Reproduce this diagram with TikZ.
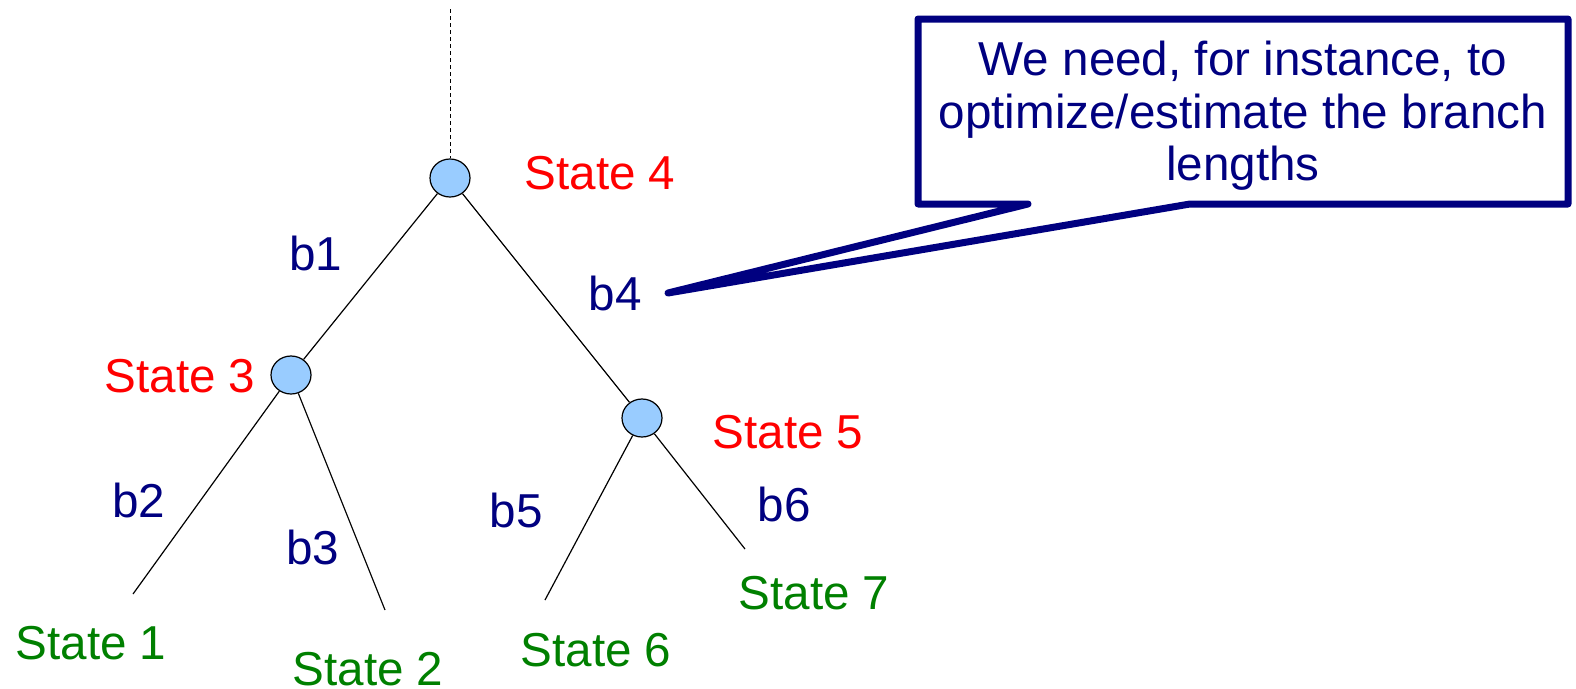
\documentclass[tikz,border=0pt]{standalone}
\usepackage{fontspec}
\setmainfont{Liberation Sans}
\usetikzlibrary{shapes.geometric}
\definecolor{navy}{RGB}{0,0,128}
\definecolor{sred}{RGB}{255,0,0}
\definecolor{sgreen}{RGB}{0,128,0}
\definecolor{nodeblue}{RGB}{153,204,255}
\begin{document}
\begin{tikzpicture}[x=1pt,y=-1pt,
  txt/.style={font=\fontsize{47.6}{52.5}\selectfont, inner sep=0pt},
  inner/.style={txt, text=sred},
  leaf/.style={txt, text=sgreen},
  blab/.style={txt, text=navy},
  vert/.style={ellipse, draw=black, line width=1.2pt, fill=nodeblue, minimum width=40pt, minimum height=38pt, inner sep=0pt},
  edge/.style={draw=black, line width=1.2pt},
  callout/.style={draw=navy, line width=7pt, line join=round, line cap=round}]
\useasboundingbox (0,0) rectangle (1576,688);
\fill[white] (0,0) rectangle (1576,688);
% vertices
\node[vert] (n4) at (450,178) {};
\node[vert] (n3) at (291,375) {};
\node[vert] (n5) at (642,418) {};
\coordinate (root) at (450,9);
\coordinate (l1) at (133,594);
\coordinate (l2) at (385,610);
\coordinate (l6) at (545,600);
\coordinate (l7) at (745,549);
% edges
\draw[edge, dash pattern=on 4pt off 3pt, line width=1pt] (root) -- (n4);
\draw[edge] (n4) -- (n3);
\draw[edge] (n4) -- (n5);
\draw[edge] (n3) -- (l1);
\draw[edge] (n3) -- (l2);
\draw[edge] (n5) -- (l6);
\draw[edge] (n5) -- (l7);
% state labels
\node[inner] (s4) at (600,173) {State 4};
\node[inner] (s3) at (180,376) {State 3};
\node[inner] (s5) at (788,432) {State 5};
\node[leaf] (s1) at (91,643) {State 1};
\node[leaf] (s2) at (368,669) {State 2};
\node[leaf] (s6) at (596,650) {State 6};
\node[leaf] (s7) at (814,593) {State 7};
% branch labels
\node[blab] (b1) at (316,253) {b1};
\node[blab] (b2) at (139,500) {b2};
\node[blab] (b3) at (313,547) {b3};
\node[blab] (b4) at (615,293) {b4};
\node[blab] (b5) at (516,510) {b5};
\node[blab] (b6) at (784,504) {b6};
% callout
\coordinate (tip) at (668,293);
\draw[callout] (918,19) -- (1568,19) -- (1568,204) -- (1190,204) -- (tip) -- (1028,204) -- (918,204) -- cycle;
\node[txt, text=navy, align=center] (note) at (1243,116) {We need, for instance, to\\optimize/estimate the branch\\lengths};
\end{tikzpicture}
\end{document}
